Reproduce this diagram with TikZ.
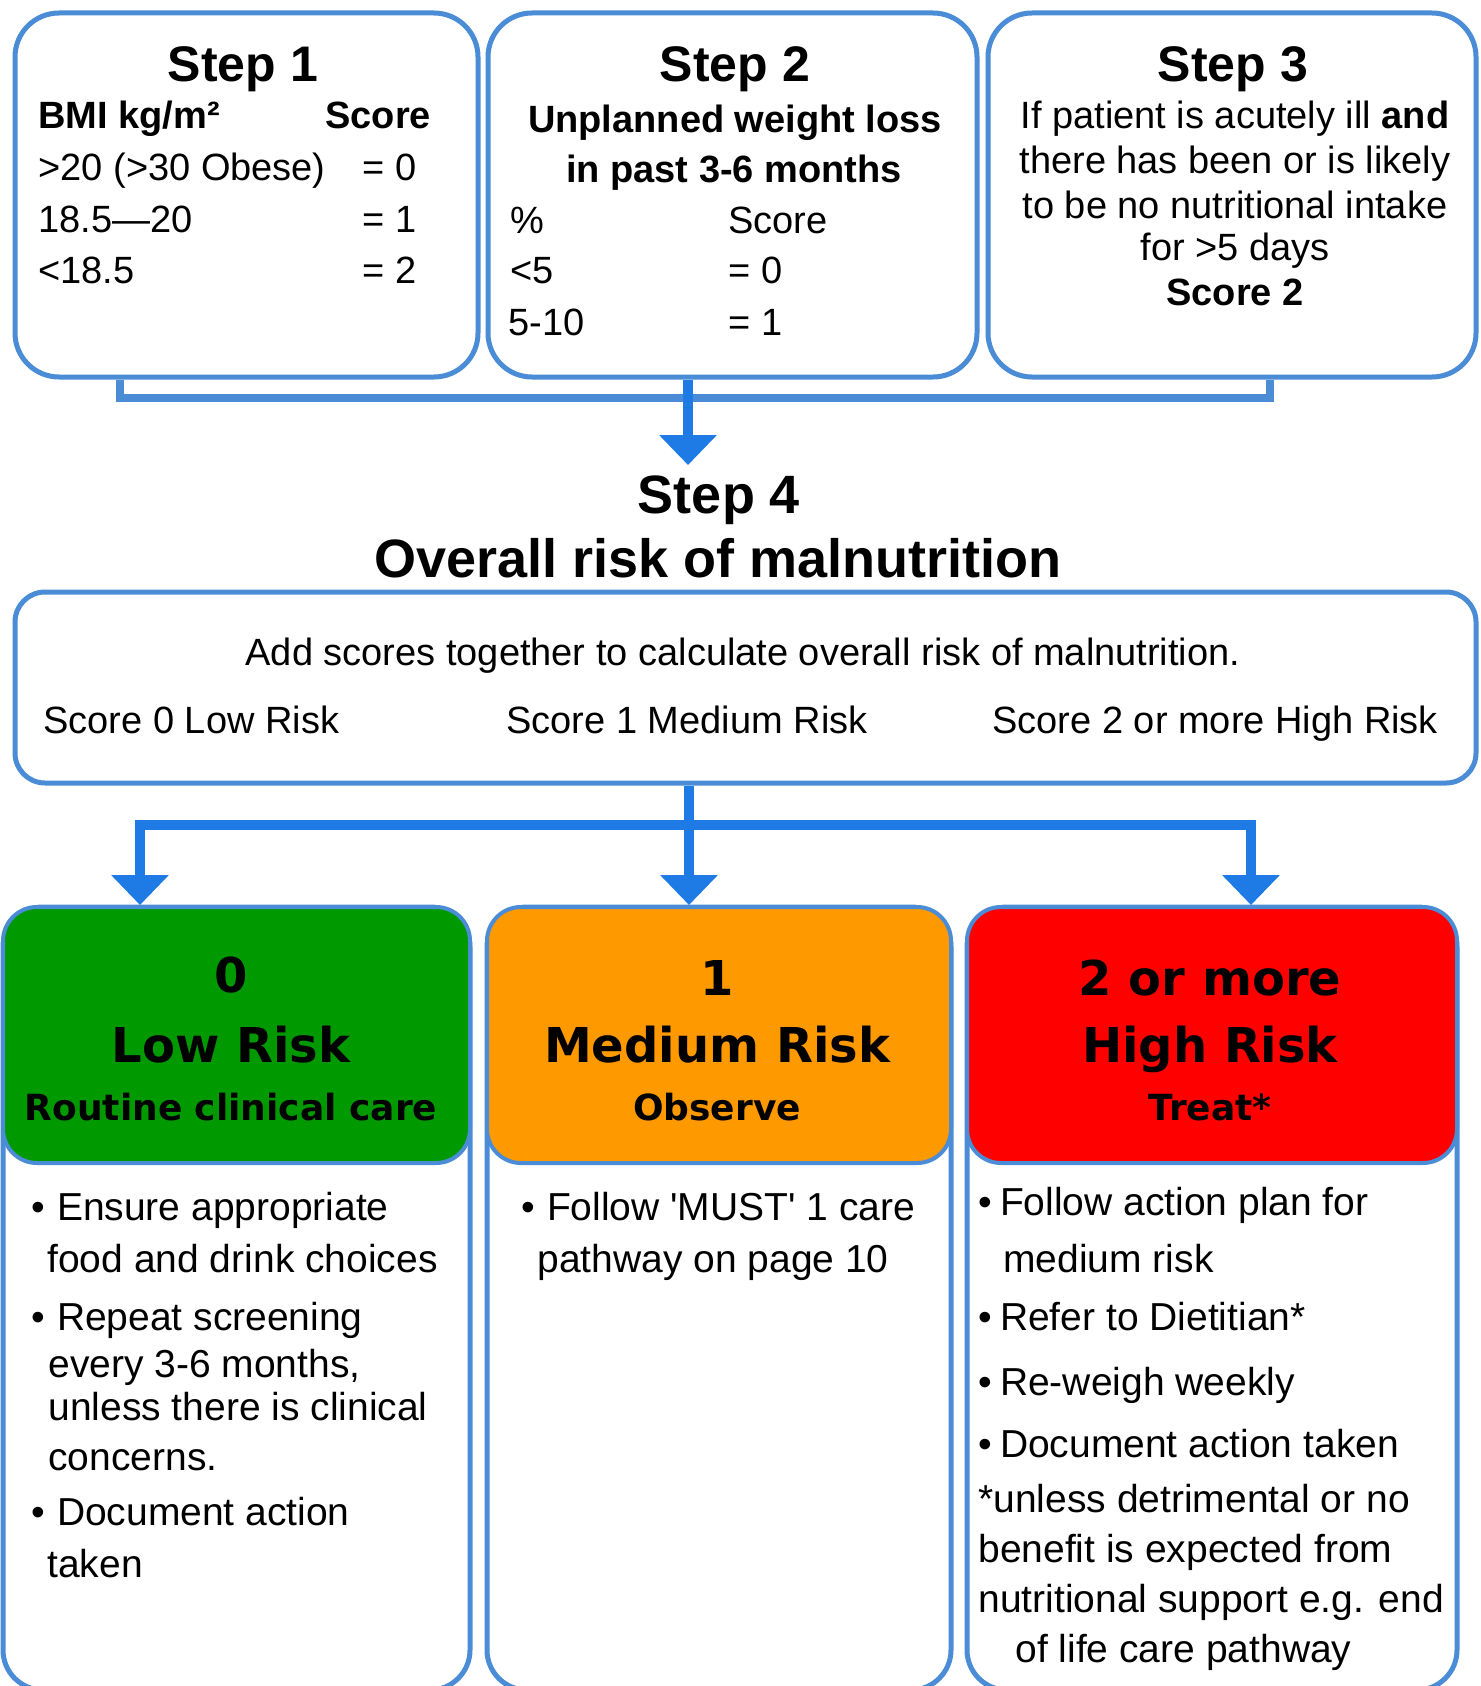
\documentclass[tikz,border=0pt]{standalone}
\usepackage{fontspec}
\setmainfont{Liberation Sans}
\newfontfamily\dejavu{DejaVu Sans}
\usetikzlibrary{arrows.meta}
\definecolor{bordblue}{HTML}{4A8CD6}
\definecolor{arrblue}{HTML}{1E7BE6}
\definecolor{lowgreen}{HTML}{009900}
\definecolor{medorange}{HTML}{FF9900}
\definecolor{highred}{HTML}{FF0000}
\tikzset{
 topbox/.style={draw=bordblue, line width=2.5pt, fill=white, rounded corners=22pt, inner sep=0pt, minimum height=182pt},
 sumbox/.style={draw=bordblue, line width=2.5pt, fill=white, rounded corners=15pt, inner sep=0pt},
 outbox/.style={draw=bordblue, line width=2.5pt, fill=white, rounded corners=20pt, inner sep=0pt, minimum height=391.5pt},
 headbox/.style={draw=bordblue, line width=2pt, rounded corners=17pt, inner sep=0pt, minimum height=128pt},
 bracket/.style={draw=bordblue, line width=4pt},
 arrowline/.style={draw=arrblue, line width=5pt, -{Triangle[width=28pt,length=15pt]}},
 stitle/.style={inner sep=0pt, anchor=base, font=\bfseries\fontsize{25}{30}\selectfont},
 sbold/.style={inner sep=0pt, anchor=base, font=\bfseries\fontsize{19}{23}\selectfont},
 sbl/.style={sbold, anchor=base west},
 stxt/.style={inner sep=0pt, anchor=base west, font=\fontsize{19}{23}\selectfont},
 sctr/.style={inner sep=0pt, anchor=base, font=\fontsize{19}{23}\selectfont},
 bigtitle/.style={inner sep=0pt, anchor=base, font=\bfseries\fontsize{27}{32}\selectfont},
 hbig/.style={inner sep=0pt, anchor=base, font=\dejavu\bfseries\fontsize{24}{28}\selectfont},
 hsub/.style={inner sep=0pt, anchor=base, font=\dejavu\bfseries\fontsize{18}{22}\selectfont},
 btxt/.style={inner sep=0pt, anchor=base west, font=\fontsize{19.5}{23}\selectfont},
}
\begin{document}
\begin{tikzpicture}[x=0.5pt,y=-0.5pt]
\useasboundingbox[fill=white] (0,0) rectangle (1480,1686);

% ---------- top boxes ----------
\node[topbox, minimum width=231.5pt] (s1) at (246.5,195) {};
\node[topbox, minimum width=244.5pt] (s2) at (732.5,195) {};
\node[topbox, minimum width=244pt] (s3) at (1232,195) {};

% bracket and first arrow
\coordinate (bl) at (120,398);
\coordinate (br) at (1270,398);
\coordinate (t1) at (688,465);
\draw[bracket] (s1.south -| bl) -- (bl) -- (br) -- (s3.south -| br);
\draw[arrowline] (s2.south -| t1) -- (t1);

% Step 1 text
\node[stitle] (s1t) at (243,82) {Step 1};
\node[sbl] (s1h) at (38,128) {BMI kg/m²};
\node[sbl] (s1hs) at (325,128) {Score};
\node[stxt] (s1a) at (38,180) {>20 (>30 Obese)};
\node[stxt] (s1as) at (362,180) {= 0};
\node[stxt] (s1b) at (38,232) {18.5—20};
\node[stxt] (s1bs) at (362,232) {= 1};
\node[stxt] (s1c) at (38,283) {<18.5};
\node[stxt] (s1cs) at (362,283) {= 2};

% Step 2 text
\node[stitle] (s2t) at (735,82) {Step 2};
\node[sbold] (s2h1) at (735,133) {Unplanned weight loss};
\node[sbold] (s2h2) at (734,182) {in past 3-6 months};
\node[stxt] (s2p) at (510,233) {\%};
\node[stxt] (s2ps) at (728,233) {Score};
\node[stxt] (s2a) at (510,283) {<5};
\node[stxt] (s2as) at (728,283) {= 0};
\node[stxt] (s2b) at (508,335) {5-10};
\node[stxt] (s2bs) at (728,335) {= 1};

% Step 3 text
\node[stitle] (s3t) at (1233,82) {Step 3};
\node[sctr] (s3a) at (1235,128) {If patient is acutely ill \textbf{and}};
\node[sctr] (s3b) at (1235,173) {there has been or is likely};
\node[sctr] (s3c) at (1235,218) {to be no nutritional intake};
\node[sctr] (s3d) at (1235,260) {for >5 days};
\node[sbold] (s3e) at (1235,305) {Score 2};

% ---------- Step 4 ----------
\node[bigtitle] (t4a) at (719,513) {Step 4};
\node[bigtitle] (t4b) at (718,577) {Overall risk of malnutrition};
\node[sumbox, minimum width=730.5pt, minimum height=95.5pt] (s4) at (745.5,687.5) {};
\node[sctr] (s4a) at (743,665) {Add scores together to calculate overall risk of malnutrition.};
\node[stxt] (s4l) at (43,733) {Score 0 Low Risk};
\node[stxt] (s4m) at (506,733) {Score 1 Medium Risk};
\node[stxt] (s4h) at (992,733) {Score 2 or more High Risk};

% ---------- bottom boxes ----------
\node[outbox, minimum width=233.5pt] (o1) at (236.5,1298.5) {};
\node[outbox, minimum width=232pt] (o2) at (719,1298.5) {};
\node[outbox, minimum width=245pt] (o3) at (1212,1298.5) {};
\node[headbox, fill=lowgreen, minimum width=233.5pt] (h1) at (236.5,1035) {};
\node[headbox, fill=medorange, minimum width=232pt] (h2) at (719,1035) {};
\node[headbox, fill=highred, minimum width=245pt] (h3) at (1212,1035) {};

% lower connectors
\coordinate (j) at (689,825);
\coordinate (jl) at (140,825);
\coordinate (jr) at (1251,825);
\draw[arrowline] (s4.south -| j) -- (j |- h2.north);
\draw[arrowline] (j) -| (jl |- h1.north);
\draw[arrowline] (j) -| (jr |- h3.north);

% header texts
\node[hbig] (h1a) at (231,992) {0};
\node[hbig] (h1b) at (231,1062) {Low Risk};
\node[hsub] (h1c) at (231,1120) {Routine clinical care};
\node[hbig] (h2a) at (717,995) {1};
\node[hbig] (h2b) at (717,1062) {Medium Risk};
\node[hsub] (h2c) at (717,1120) {Observe};
\node[hbig] (h3a) at (1210,995) {2 or more};
\node[hbig] (h3b) at (1210,1062) {High Risk};
\node[hsub] (h3c) at (1210,1120) {Treat*};

% Low risk bullets
\node[btxt] (l1) at (31,1220) {\textbullet\hspace{6pt}Ensure appropriate};
\node[btxt] (l2) at (47,1272) {food and drink choices};
\node[btxt] (l3) at (31,1330) {\textbullet\hspace{6pt}Repeat screening};
\node[btxt] (l4) at (48,1377) {every 3-6 months,};
\node[btxt] (l5) at (48,1420) {unless there is clinical};
\node[btxt] (l6) at (48,1470) {concerns.};
\node[btxt] (l7) at (31,1525) {\textbullet\hspace{6pt}Document action};
\node[btxt] (l8) at (47,1577) {taken};

% Medium risk bullets
\node[btxt] (m1) at (521,1220) {\textbullet\hspace{6pt}Follow \textquotesingle MUST\textquotesingle{} 1 care};
\node[btxt] (m2) at (537,1272) {pathway on page 10};

% High risk bullets
\node[btxt] (r1) at (978,1215) {\textbullet\hspace{4pt}Follow action plan for};
\node[btxt] (r2) at (1003,1272) {medium risk};
\node[btxt] (r3) at (978,1330) {\textbullet\hspace{4pt}Refer to Dietitian*};
\node[btxt] (r4) at (978,1395) {\textbullet\hspace{4pt}Re-weigh weekly};
\node[btxt] (r5) at (978,1457) {\textbullet\hspace{4pt}Document action taken};
\node[btxt] (r6) at (978,1512) {*unless detrimental or no};
\node[btxt] (r7) at (978,1562) {benefit is expected from};
\node[btxt] (r8) at (978,1612) {nutritional support e.g. end};
\node[btxt] (r9) at (1015,1662) {of life care pathway};
\end{tikzpicture}
\end{document}
